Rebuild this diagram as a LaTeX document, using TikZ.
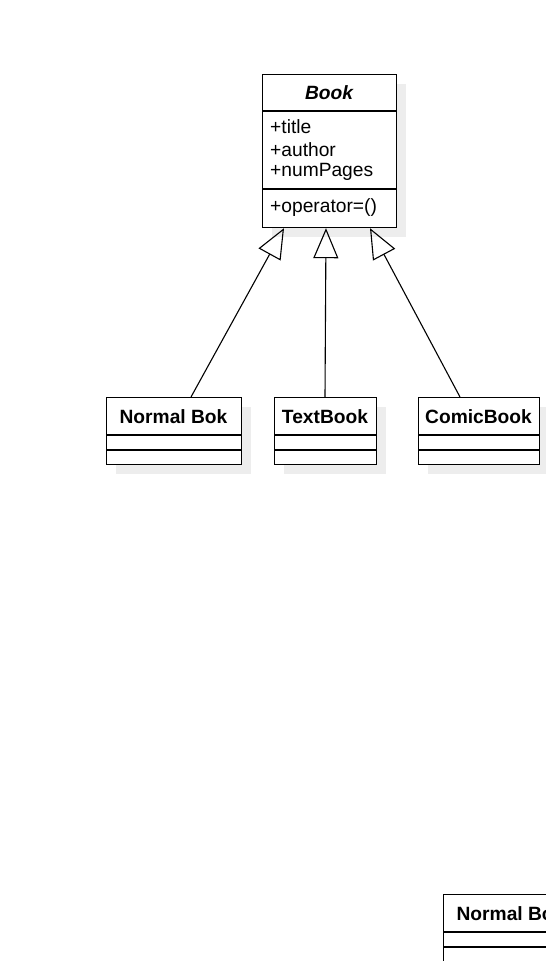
\documentclass[tikz,border=0pt]{standalone}
\usepackage{fontspec}
\setmainfont{Liberation Sans}
\usetikzlibrary{arrows.meta,calc}
\definecolor{shadowgray}{HTML}{EDEDED}
\begin{document}
\begin{tikzpicture}[x=1pt,y=-1pt,
  box/.style={draw=black,line width=1.2pt,fill=white,inner sep=0pt,anchor=north west},
  shadowbox/.style={fill=shadowgray,draw=none,inner sep=0pt,anchor=north west},
  hdr/.style={font=\fontsize{19.2}{22}\selectfont\bfseries,inner sep=0pt},
  txt/.style={font=\fontsize{19.2}{22}\selectfont,anchor=west,inner sep=0pt},
  sep/.style={line width=1.2pt},
  inh/.style={line width=1.1pt,-{Triangle[open,length=30pt,width=25pt]}}]
\useasboundingbox (0,0) rectangle (546,961);
\clip (0,0) rectangle (546,961);
% Book class
\node[shadowbox,minimum width=134pt,minimum height=153pt] (booksh) at (272,84) {};
\node[box,minimum width=134pt,minimum height=153pt] (book) at (262,74) {};
\draw[sep] ([yshift=-37pt]book.north west) -- ([yshift=-37pt]book.north east);
\draw[sep] ([yshift=-115pt]book.north west) -- ([yshift=-115pt]book.north east);
\node[hdr,font=\fontsize{19.2}{22}\selectfont\bfseries\itshape] (bookname) at (329,92.5) {Book};
\node[txt] (attr1) at (270,127) {+title};
\node[txt] (attr2) at (270,150) {+author};
\node[txt] (attr3) at (270,172) {+numPages};
\node[txt] (meth1) at (270,208) {+operator=()};
% Normal Bok
\node[shadowbox,minimum width=135pt,minimum height=67pt] (nbsh) at (116,407) {};
\node[box,minimum width=135pt,minimum height=67pt] (nb) at (106,397) {};
\draw[sep] ([yshift=-38pt]nb.north west) -- ([yshift=-38pt]nb.north east);
\draw[sep] ([yshift=-53pt]nb.north west) -- ([yshift=-53pt]nb.north east);
\node[hdr] (nbname) at (173.5,416.5) {Normal Bok};
% TextBook
\node[shadowbox,minimum width=102pt,minimum height=67pt] (tbsh) at (284,407) {};
\node[box,minimum width=102pt,minimum height=67pt] (tb) at (274,397) {};
\draw[sep] ([yshift=-38pt]tb.north west) -- ([yshift=-38pt]tb.north east);
\draw[sep] ([yshift=-53pt]tb.north west) -- ([yshift=-53pt]tb.north east);
\node[hdr] (tbname) at (325,416.5) {TextBook};
% ComicBook
\node[shadowbox,minimum width=121pt,minimum height=67pt] (cbsh) at (428,407) {};
\node[box,minimum width=121pt,minimum height=67pt] (cb) at (418,397) {};
\draw[sep] ([yshift=-38pt]cb.north west) -- ([yshift=-38pt]cb.north east);
\draw[sep] ([yshift=-53pt]cb.north west) -- ([yshift=-53pt]cb.north east);
\node[hdr] (cbname) at (478.5,416.5) {ComicBook};
% bottom clipped Normal Bok
\node[box,minimum width=135pt,minimum height=67pt] (nb2) at (443,894) {};
\draw[sep] ([yshift=-38pt]nb2.north west) -- ([yshift=-38pt]nb2.north east);
\draw[sep] ([yshift=-53pt]nb2.north west) -- ([yshift=-53pt]nb2.north east);
\node[hdr] (nb2name) at (510.5,913.5) {Normal Bok};
% inheritance arrows
\draw[inh] ([xshift=85pt]nb.north west) -- ([xshift=22pt]book.south west);
\draw[inh] ([xshift=51pt]tb.north west) -- ([xshift=64pt]book.south west);
\draw[inh] ([xshift=42pt]cb.north west) -- ([xshift=108pt]book.south west);
\end{tikzpicture}
\end{document}
